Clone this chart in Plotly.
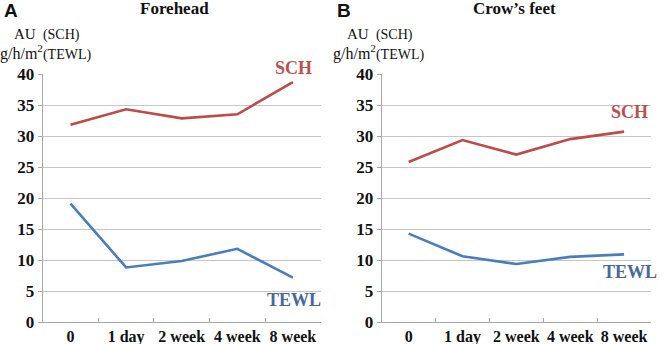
import plotly.graph_objects as go

# Time points of the measurement
timepoints = ["0", "1 day", "2 week", "4 week", "8 week"]

# Forehead
forehead_sch = [31.8, 34.3, 32.85, 33.5, 38.7]
forehead_tewl = [19.1, 8.8, 9.85, 11.8, 7.15]

# Crow's feet
crows_sch = [25.8, 29.35, 27.0, 29.5, 30.7]
crows_tewl = [14.25, 10.6, 9.35, 10.5, 10.9]

y_ticks = [0, 5, 10, 15, 20, 25, 30, 35, 40]

SCH_LINE = "#be4b48"
TEWL_LINE = "#4a7ebb"
SCH_TEXT = "#bd4f52"
TEWL_TEXT = "#49689a"
SERIF = "Liberation Serif"
SANS = "Liberation Sans"
W, H = 666, 344

fig = go.Figure()
for xa, ya, sch, tewl in [("x", "y", forehead_sch, forehead_tewl),
                          ("x2", "y2", crows_sch, crows_tewl)]:
    fig.add_trace(go.Scatter(x=timepoints, y=sch, mode="lines", xaxis=xa, yaxis=ya,
                             line=dict(color=SCH_LINE, width=2.6), showlegend=False))
    fig.add_trace(go.Scatter(x=timepoints, y=tewl, mode="lines", xaxis=xa, yaxis=ya,
                             line=dict(color=TEWL_LINE, width=2.6), showlegend=False))

xaxis_style = dict(
    type="category", range=[-0.5, 4.5], showgrid=False,
    showline=True, linecolor="#a8a8a8", linewidth=1,
    ticks="inside", ticklen=4, tickcolor="#a8a8a8", tickson="boundaries",
    tickangle=0, automargin=False,
    tickfont=dict(family=SERIF, size=16, color="#111111", weight="bold"),
    fixedrange=True,
)
yaxis_style = dict(
    range=[0, 40], tickvals=y_ticks, showgrid=True, gridcolor="#c6c6c6", gridwidth=1,
    showline=True, linecolor="#a8a8a8", linewidth=1, zeroline=False,
    ticks="outside", ticklen=4, tickcolor="#a8a8a8", automargin=False,
    tickfont=dict(family=SERIF, size=17, color="#111111", weight="bold"),
    fixedrange=True,
)

y_dom = [1 - 322 / H, 1 - 74 / H]
fig.update_layout(
    width=W, height=H,
    margin=dict(l=0, r=0, t=0, b=0),
    paper_bgcolor="white", plot_bgcolor="white",
    xaxis=dict(xaxis_style, domain=[42.7 / W, 320.7 / W], anchor="y"),
    yaxis=dict(yaxis_style, domain=y_dom, anchor="x"),
    xaxis2=dict(xaxis_style, domain=[381.7 / W, 651 / W], anchor="y2"),
    yaxis2=dict(yaxis_style, domain=y_dom, anchor="x2"),
)


def paper_text(text, px, py, size, color="#111111", family=SERIF, xanchor="left",
               yanchor="middle", weight="normal"):
    return dict(text=text, x=px / W, y=1 - py / H, xref="paper", yref="paper",
                xanchor=xanchor, yanchor=yanchor, showarrow=False,
                font=dict(family=family, size=size, color=color, weight=weight))


annotations = []
# Panel letters, titles and unit labels
for left_px, letter, title, title_cx in [(0, "A", "Forehead", 174), (333, "B", "Crow’s feet", 514)]:
    annotations.append(paper_text(letter, left_px + 2, 10.5, 19, family=SANS, weight="bold"))
    annotations.append(paper_text(title, title_cx, 8, 17, xanchor="center", weight="bold"))
    annotations.append(paper_text("AU <span style='font-size:14px'> (SCH)</span>",
                                  left_px + 12, 45, 15, yanchor="bottom"))
    annotations.append(paper_text("g/h/m<sup>2</sup><span style='font-size:14px'>(TEWL)</span>",
                                  left_px - 2, 65, 16, yanchor="bottom"))

# Series labels placed next to their lines
annotations.append(paper_text("SCH", 293.5, 68, 18, color=SCH_TEXT, xanchor="center", weight="bold"))
annotations.append(paper_text("TEWL", 293.5, 300, 18, color=TEWL_TEXT, xanchor="center", weight="bold"))
annotations.append(paper_text("SCH", 629.5, 112, 18, color=SCH_TEXT, xanchor="center", weight="bold"))
annotations.append(paper_text("TEWL", 630, 272, 18, color=TEWL_TEXT, xanchor="center", weight="bold"))

fig.update_layout(annotations=annotations)
fig.write_html("out.html")
